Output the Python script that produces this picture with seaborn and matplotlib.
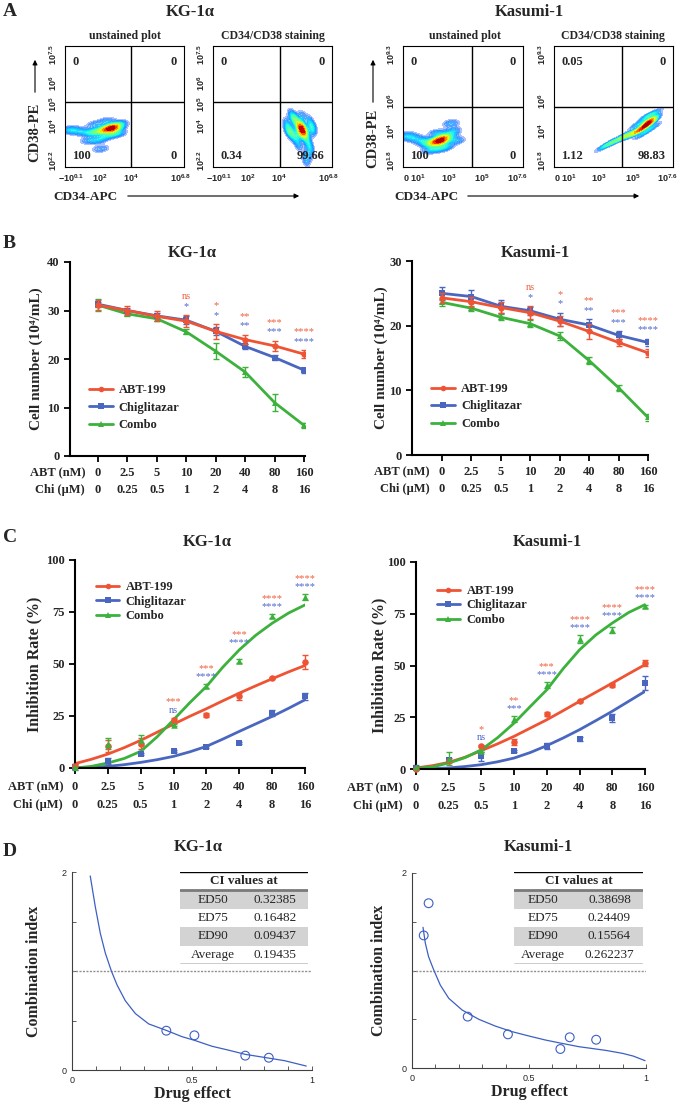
import numpy as np
import pandas as pd
import matplotlib
matplotlib.use("Agg")
import matplotlib.pyplot as plt
import seaborn as sns
from matplotlib.lines import Line2D
from matplotlib.patches import Rectangle, FancyArrowPatch
from matplotlib.colors import ListedColormap

sns.set_style("white")
plt.rcParams["font.family"] = ["Liberation Serif", "DejaVu Serif"]
plt.rcParams["font.weight"] = "bold"
plt.rcParams["mathtext.fontset"] = "custom"
plt.rcParams["mathtext.rm"] = "Liberation Sans"
plt.rcParams["mathtext.it"] = "Liberation Sans:italic"
plt.rcParams["mathtext.bf"] = "Liberation Sans:bold"

# ---------------- data ----------------
drugs = ["ABT-199", "Chiglitazar", "Combo"]
abt_doses = ["0", "2.5", "5", "10", "20", "40", "80", "160"]
chi_doses = ["0", "0.25", "0.5", "1", "2", "4", "8", "16"]

# A: flow cytometry clouds (axis fraction units)
kg_un_x = [0.38, 0.40, 0.36, 0.42, 0.34, 0.44, 0.30, 0.26, 0.22, 0.15, 0.08, 0.03, 0.46, 0.33, 0.28, 0.20, 0.35, 0.25, 0.40, 0.30, 0.45, 0.38, 0.39]
kg_un_y = [0.32, 0.33, 0.31, 0.32, 0.30, 0.34, 0.30, 0.29, 0.28, 0.29, 0.30, 0.31, 0.36, 0.25, 0.22, 0.22, 0.38, 0.35, 0.27, 0.15, 0.28, 0.33, 0.31]
kg_st_x = [0.75, 0.74, 0.76, 0.72, 0.70, 0.68, 0.78, 0.80, 0.82, 0.80, 0.78, 0.65, 0.62, 0.70, 0.66, 0.75, 0.83, 0.72, 0.75, 0.74, 0.63, 0.84, 0.67, 0.81, 0.77, 0.73]
kg_st_y = [0.31, 0.33, 0.29, 0.35, 0.38, 0.40, 0.25, 0.20, 0.15, 0.10, 0.05, 0.30, 0.36, 0.25, 0.43, 0.42, 0.30, 0.18, 0.32, 0.30, 0.30, 0.33, 0.26, 0.38, 0.30, 0.28]
kas_un_x = [0.31, 0.29, 0.33, 0.27, 0.35, 0.38, 0.24, 0.20, 0.15, 0.08, 0.03, 0.42, 0.30, 0.22, 0.36, 0.40, 0.28, 0.45, 0.31, 0.32]
kas_un_y = [0.22, 0.21, 0.23, 0.20, 0.25, 0.26, 0.19, 0.20, 0.22, 0.24, 0.26, 0.30, 0.15, 0.14, 0.17, 0.36, 0.28, 0.22, 0.21, 0.23]
kas_st_x = [0.79, 0.80, 0.77, 0.82, 0.75, 0.84, 0.72, 0.68, 0.64, 0.60, 0.55, 0.48, 0.42, 0.78, 0.74, 0.83, 0.70, 0.79, 0.80]
kas_st_y = [0.36, 0.38, 0.34, 0.40, 0.32, 0.44, 0.30, 0.28, 0.27, 0.26, 0.23, 0.20, 0.17, 0.42, 0.27, 0.33, 0.35, 0.37, 0.36]
kg_un_quad = ["0", "0", "100", "0"]
kg_st_quad = ["0", "0", "0.34", "99.66"]
kas_un_quad = ["0", "0", "100", "0"]
kas_st_quad = ["0.05", "0", "1.12", "98.83"]
kg_flow_xlabels = [r"$-10^{0.1}$", r"$10^{2}$", r"$10^{4}$", r"$10^{6.8}$"]
kg_flow_ylabels = [r"$10^{2.2}$", r"$10^{4}$", r"$10^{5}$", r"$10^{6}$", r"$10^{7.5}$"]
kas_flow_xlabels = [r"$0$", r"$10^{1}$", r"$10^{3}$", r"$10^{5}$", r"$10^{7.6}$"]
kas_flow_ylabels = [r"$10^{1.8}$", r"$10^{4}$", r"$10^{6}$", r"$10^{9.3}$"]

# B: cell number (10^4/mL)
kg_cell = {
    "ABT-199": [31.1, 30.0, 28.8, 27.8, 25.7, 24.0, 22.7, 21.0],
    "Chiglitazar": [31.3, 30.0, 28.9, 28.0, 25.7, 22.6, 20.3, 17.7],
    "Combo": [31.1, 29.3, 28.3, 25.6, 21.6, 17.3, 11.0, 6.3],
}
kg_cell_err = {
    "ABT-199": [1.0, 1.0, 1.0, 1.3, 1.5, 1.0, 1.1, 0.8],
    "Chiglitazar": [0.5, 0.5, 0.5, 0.8, 0.8, 0.5, 0.5, 0.5],
    "Combo": [1.3, 0.5, 0.5, 0.5, 1.6, 1.1, 1.8, 0.5],
}
kas_cell = {
    "ABT-199": [24.3, 23.7, 22.8, 22.0, 20.7, 19.1, 17.4, 15.8],
    "Chiglitazar": [25.0, 24.5, 23.0, 22.3, 21.0, 20.1, 18.5, 17.4],
    "Combo": [23.6, 22.7, 21.3, 20.3, 18.4, 14.6, 10.4, 5.8],
}
kas_cell_err = {
    "ABT-199": [0.8, 0.8, 0.8, 1.0, 0.8, 1.2, 0.6, 0.6],
    "Chiglitazar": [1.0, 1.0, 1.0, 0.6, 1.0, 0.9, 0.6, 0.6],
    "Combo": [0.5, 0.4, 0.5, 0.5, 0.6, 0.5, 0.5, 0.6],
}
kg_b_sig_abt = ["", "", "", "ns", "*", "**", "***", "****"]
kg_b_sig_chi = ["", "", "", "*", "*", "**", "***", "****"]
kas_b_sig_abt = ["", "", "", "ns", "*", "**", "***", "****"]
kas_b_sig_chi = ["", "", "", "*", "*", "**", "***", "****"]

# C: inhibition rate (%)
kg_inh = {
    "ABT-199": [0.8, 10.7, 11.7, 23.2, 25.3, 34.4, 43.2, 50.9],
    "Chiglitazar": [0.3, 3.2, 6.9, 8.0, 10.1, 12.0, 26.4, 34.4],
    "Combo": [0.5, 11.7, 13.6, 20.8, 39.5, 51.5, 73.1, 82.1],
}
kg_inh_err = {
    "ABT-199": [1.0, 2.8, 2.5, 1.0, 1.0, 1.5, 0.5, 3.5],
    "Chiglitazar": [1.5, 1.5, 0.5, 0.5, 0.5, 0.5, 1.5, 1.5],
    "Combo": [0.5, 2.8, 2.5, 0.5, 1.0, 1.0, 1.0, 1.5],
}
kg_fit = {
    "ABT-199": [2.1, 4.2, 6.7, 9.8, 13.3, 17.2, 21.1, 24.9, 28.5, 32.3, 36.0, 39.5, 42.9, 46.2, 49.3],
    "Chiglitazar": [0.0, 0.3, 0.8, 1.6, 2.7, 4.0, 5.6, 7.8, 10.4, 13.9, 17.6, 21.2, 24.8, 28.7, 32.8],
    "Combo": [0.0, 0.8, 2.4, 4.6, 8.0, 15.0, 23.2, 31.5, 39.2, 48.5, 56.8, 63.8, 69.6, 74.5, 78.4],
}
kas_inh = {
    "ABT-199": [0.2, 3.7, 11.0, 12.9, 26.7, 33.0, 40.7, 51.2],
    "Chiglitazar": [0.5, 4.2, 6.1, 8.5, 11.3, 14.5, 24.6, 41.5],
    "Combo": [1.0, 5.0, 8.9, 24.2, 40.7, 62.8, 67.3, 78.6],
}
kas_inh_err = {
    "ABT-199": [0.5, 0.5, 0.5, 1.5, 1.0, 0.5, 1.0, 1.5],
    "Chiglitazar": [0.5, 1.0, 2.0, 0.5, 1.5, 1.2, 2.0, 3.5],
    "Combo": [1.0, 3.2, 0.5, 1.5, 1.5, 2.0, 1.5, 0.7],
}
kas_fit = {
    "ABT-199": [0.5, 1.6, 3.2, 5.7, 8.9, 12.2, 15.8, 19.8, 23.8, 28.2, 32.7, 37.1, 41.5, 46.0, 50.4],
    "Chiglitazar": [0.0, 0.2, 0.5, 1.2, 2.1, 3.5, 5.3, 8.0, 11.3, 15.0, 19.0, 23.4, 27.9, 32.7, 37.5],
    "Combo": [0.3, 1.0, 2.9, 5.5, 9.3, 15.2, 22.2, 30.3, 38.3, 48.5, 57.6, 64.8, 70.5, 75.6, 79.4],
}
kg_c_sig_abt = ["", "", "", "***", "***", "***", "****", "****"]
kg_c_sig_chi = ["", "", "", "ns", "****", "****", "****", "****"]
kas_c_sig_abt = ["", "", "*", "**", "***", "****", "****", "****"]
kas_c_sig_chi = ["", "", "ns", "***", "****", "****", "****", "****"]

# D: combination index
kg_ci_curve_x = [0.076, 0.097, 0.118, 0.139, 0.164, 0.1875, 0.222, 0.264, 0.32, 0.393, 0.458, 0.51, 0.583, 0.653, 0.722, 0.82, 0.886, 0.976]
kg_ci_curve_y = [1.96, 1.65, 1.38, 1.18, 1.0, 0.86, 0.70, 0.57, 0.465, 0.40, 0.337, 0.30, 0.24, 0.20, 0.158, 0.12, 0.094, 0.04]
kg_ci_pts_x = [0.393, 0.51, 0.722, 0.82]
kg_ci_pts_y = [0.397, 0.35, 0.145, 0.124]
kas_ci_curve_x = [0.047, 0.057, 0.071, 0.093, 0.121, 0.157, 0.214, 0.285, 0.356, 0.427, 0.50, 0.57, 0.64, 0.712, 0.77, 0.83, 0.90, 0.946, 0.996]
kas_ci_curve_y = [1.443, 1.28, 1.14, 1.005, 0.85, 0.715, 0.595, 0.50, 0.43, 0.373, 0.328, 0.287, 0.253, 0.219, 0.200, 0.180, 0.150, 0.122, 0.075]
kas_ci_pts_x = [0.05, 0.071, 0.238, 0.41, 0.634, 0.674, 0.787]
kas_ci_pts_y = [1.36, 1.69, 0.527, 0.345, 0.195, 0.315, 0.29]
ci_rows = ["ED50", "ED75", "ED90", "Average"]
kg_ci_vals = ["0.32385", "0.16482", "0.09437", "0.19435"]
kas_ci_vals = ["0.38698", "0.24409", "0.15564", "0.262237"]

# ---------------- styles ----------------
colors = {"ABT-199": "#ee5434", "Chiglitazar": "#4a67c0", "Combo": "#3cb13c"}
markers = {"ABT-199": "o", "Chiglitazar": "s", "Combo": "^"}
SIG_RED, SIG_BLUE = "#f0603f", "#4f68cc"

W, H = 685, 1105
fig = plt.figure(figsize=(W / 100, H / 100), dpi=100)


def px_axes(x0, y0, x1, y1):
    return fig.add_axes([x0 / W, 1 - y1 / H, (x1 - x0) / W, (y1 - y0) / H])


def ftext(x, y, s, **kw):
    fig.text(x / W, 1 - y / H, s, **kw)


def farrow(x0, y0, x1, y1):
    fig.add_artist(FancyArrowPatch((x0 / W, 1 - y0 / H), (x1 / W, 1 - y1 / H),
                                   transform=fig.transFigure, arrowstyle="-|>",
                                   mutation_scale=7, lw=0.8, color="black"))


# ---------------- A: flow plots ----------------
_jet = plt.cm.jet(np.linspace(0.18, 1.0, 256))
_jet[:, 3] = np.clip(np.linspace(0.3, 2.2, 256), 0, 1)
flow_cmap = ListedColormap(_jet)


def flow(box, cx, cy, xt, xl, yt, yl, gx, gy, quad, sub, subx):
    ax = px_axes(*box)
    sns.kdeplot(x=cx, y=cy, ax=ax, fill=True, cmap=flow_cmap, levels=18,
                thresh=0.06, bw_adjust=0.7)
    ax.axvline(gx, color="black", lw=1)
    ax.axhline(gy, color="black", lw=1)
    ax.set_xlim(0, 1)
    ax.set_ylim(0, 1)
    ax.set_xticks(xt)
    ax.set_xticklabels(xl, fontsize=6.5)
    ax.set_yticks(yt)
    ax.set_yticklabels(yl, fontsize=6.5, rotation=90, va="center")
    ax.tick_params(direction="out", length=2.5, width=0.6, pad=1.5)
    for s in ax.spines.values():
        s.set_linewidth(0.8)
        s.set_color("black")
    ax.set_xlabel("")
    ax.set_ylabel("")
    kw = dict(fontsize=9, fontweight="bold", transform=ax.transAxes, va="center")
    ax.text(0.06, 0.87, quad[0], ha="left", **kw)
    ax.text(0.94, 0.87, quad[1], ha="right", **kw)
    ax.text(0.06, 0.09, quad[2], ha="left", **kw)
    ax.text(0.94, 0.09, quad[3], ha="right", **kw)
    ftext(subx, 36, sub, ha="center", va="center", fontsize=8.5, fontweight="bold")


kg_xt = [0.05, 0.29, 0.55, 0.97]
kg_yt = [0.05, 0.34, 0.52, 0.69, 0.93]
kas_xt = [0.03, 0.12, 0.38, 0.66, 0.95]
kas_yt = [0.05, 0.30, 0.54, 0.93]
flow((65, 46, 184, 167), kg_un_x, kg_un_y, kg_xt, kg_flow_xlabels, kg_yt, kg_flow_ylabels,
     0.555, 0.54, kg_un_quad, "unstained plot", 125)
flow((213, 46, 332, 167), kg_st_x, kg_st_y, kg_xt, kg_flow_xlabels, kg_yt, kg_flow_ylabels,
     0.56, 0.54, kg_st_quad, "CD34/CD38 staining", 273)
flow((403, 46, 523, 167), kas_un_x, kas_un_y, kas_xt, kas_flow_xlabels, kas_yt, kas_flow_ylabels,
     0.575, 0.50, kas_un_quad, "unstained plot", 465)
flow((554, 46, 673, 167), kas_st_x, kas_st_y, kas_xt, kas_flow_xlabels, kas_yt, kas_flow_ylabels,
     0.57, 0.50, kas_st_quad, "CD34/CD38 staining", 613)

for x, ty, ay in [(35, 132, 95), (373, 138, 105)]:
    ftext(x, ty, "CD38-PE", rotation=90, ha="center", va="center", fontsize=10.5, fontweight="bold")
    farrow(x, ay, x, 57)
for tx, a0, a1 in [(85, 125, 302), (426, 465, 642)]:
    ftext(tx, 197, "CD34-APC", ha="center", va="center", fontsize=9.5, fontweight="bold")
    farrow(a0, 196, a1, 196)


# ---------------- helpers for B / C ----------------
def style_axes(ax):
    sns.despine(ax=ax)
    for s in ["left", "bottom"]:
        ax.spines[s].set_linewidth(1.5)
        ax.spines[s].set_color("black")
    ax.tick_params(axis="both", direction="out", length=4, width=1.3, color="black",
                   left=True, bottom=True, labelsize=9)
    for lab in ax.get_yticklabels():
        lab.set_fontweight("bold")


def dose_rows(ax, label_x, off1, off2):
    ax.set_xticks(range(len(abt_doses)))
    ax.set_xticklabels([])
    kw = dict(xycoords=("data", "axes fraction"), textcoords="offset points",
              ha="center", va="center", fontsize=9, fontweight="bold", annotation_clip=False)
    for i, (a, c) in enumerate(zip(abt_doses, chi_doses)):
        ax.annotate(a, xy=(i, 0), xytext=(0, -off1), **kw)
        ax.annotate(c, xy=(i, 0), xytext=(0, -off2), **kw)
    kw["xycoords"] = "axes fraction"
    kw["ha"] = "right"
    ax.annotate("ABT (nM)", xy=(label_x, 0), xytext=(0, -off1), **kw)
    ax.annotate("Chi (\u03bcM)", xy=(label_x, 0), xytext=(0, -off2), **kw)


def sig_marks(ax, tops, sig_abt, sig_chi, off1, off2):
    for i, top in enumerate(tops):
        if sig_chi[i]:
            ax.text(i, top + off1, sig_chi[i], color=SIG_BLUE, ha="center", va="center",
                    fontsize=7.5, fontweight="normal")
        if sig_abt[i]:
            ax.text(i, top + off1 + off2, sig_abt[i], color=SIG_RED, ha="center", va="center",
                    fontsize=7.5, fontweight="normal")


def legend_handles(lw=2):
    return [Line2D([0], [0], color=colors[d], marker=markers[d], lw=lw, markersize=4,
                   markeredgewidth=0) for d in drugs]


def cell_panel(box, vals, errs, ymax, yticks, xlim, label_x, ylab_x, sig_abt, sig_chi):
    ax = px_axes(*box)
    rows = []
    for d in drugs:
        for i, v in enumerate(vals[d]):
            rows.append({"pos": i, "value": v, "drug": d})
    df = pd.DataFrame(rows)
    for d in ["Combo", "Chiglitazar", "ABT-199"]:
        sub = df[df.drug == d]
        sns.lineplot(data=sub, x="pos", y="value", ax=ax, color=colors[d], marker=markers[d],
                     markersize=4.5, markeredgewidth=0, lw=2, legend=False)
        ax.errorbar(sub.pos, sub.value, yerr=errs[d], fmt="none", ecolor=colors[d],
                    elinewidth=1, capsize=2.5, capthick=1)
    ax.set_xlim(*xlim)
    ax.set_ylim(0, ymax)
    ax.set_yticks(yticks)
    ax.set_xlabel("")
    ax.set_ylabel("Cell number (10\u2074/mL)", fontsize=11, fontweight="bold")
    ax.yaxis.set_label_coords(ylab_x, 0.5)
    style_axes(ax)
    dose_rows(ax, label_x, 12.2, 24.5)
    tops = [max(vals[d][i] + errs[d][i] for d in drugs) for i in range(len(abt_doses))]
    sig_marks(ax, tops, sig_abt, sig_chi, 0.045 * ymax, 0.05 * ymax)
    ax.legend(legend_handles(), drugs, loc="center left", bbox_to_anchor=(0.08, 0.25),
              frameon=False, prop={"size": 9, "weight": "bold"}, handlelength=1.9,
              handletextpad=0.5, labelspacing=0.45, borderpad=0, borderaxespad=0)
    return ax


cell_panel((70, 262, 305, 456), kg_cell, kg_cell_err, 40, [0, 10, 20, 30, 40], (-0.95, 7.03),
           0.064, -0.115, kg_b_sig_abt, kg_b_sig_chi)
cell_panel((412, 261, 648, 455), kas_cell, kas_cell_err, 30, [0, 10, 20, 30], (-1.02, 7.0),
           0.076, -0.10, kas_b_sig_abt, kas_b_sig_chi)


def inhib_panel(box, vals, errs, fits, label_x, ylab_x, sig_abt, sig_chi, leg_y):
    ax = px_axes(*box)
    fit_pos = np.arange(len(kg_fit["ABT-199"])) * 0.5
    for d in ["Chiglitazar", "ABT-199", "Combo"]:
        sns.lineplot(x=fit_pos, y=fits[d], ax=ax, color=colors[d], lw=2, legend=False)
        sns.scatterplot(x=np.arange(len(vals[d])), y=vals[d], ax=ax, color=colors[d],
                        marker=markers[d], s=22, linewidth=0, legend=False, clip_on=False, zorder=4)
        ax.errorbar(np.arange(len(vals[d])), vals[d], yerr=errs[d], fmt="none",
                    ecolor=colors[d], elinewidth=1, capsize=2.5, capthick=1, clip_on=False)
    ax.set_xlim(0, 7)
    ax.set_ylim(0, 100)
    ax.set_yticks([0, 25, 50, 75, 100])
    ax.set_xlabel("")
    ax.set_ylabel("Inhibition Rate (%)", fontsize=11.5, fontweight="bold")
    ax.yaxis.set_label_coords(ylab_x, 0.5)
    style_axes(ax)
    dose_rows(ax, label_x, 13.7, 26.6)
    tops = []
    for i in range(len(abt_doses)):
        t = max(vals[d][i] + errs[d][i] for d in drugs)
        t = max([t] + [fits[d][2 * i] for d in drugs])
        tops.append(t)
    sig_marks(ax, tops, sig_abt, sig_chi, 3.5, 4.0)
    ax.legend(legend_handles(), drugs, loc="center left", bbox_to_anchor=(0.09, leg_y),
              frameon=False, prop={"size": 9, "weight": "bold"}, handlelength=1.9,
              handletextpad=0.5, labelspacing=0.2, borderpad=0, borderaxespad=0)
    return ax


inhib_panel((75, 560, 305, 768), kg_inh, kg_inh_err, kg_fit, -0.052, -0.143,
            kg_c_sig_abt, kg_c_sig_chi, 0.80)
inhib_panel((416, 562, 645, 769), kas_inh, kas_inh_err, kas_fit, -0.057, -0.127,
            kas_c_sig_abt, kas_c_sig_chi, 0.79)


# ---------------- D: combination index ----------------
def ci_panel(box, cx, cy, px, py, ylab_x, table_box, vals, col_x):
    ax = px_axes(*box)
    ax.axhline(1.0, color="#909090", lw=1, ls=(0, (1.5, 1)))
    sns.lineplot(x=cx, y=cy, ax=ax, color="#3d5fc4", lw=0.9, sort=False, legend=False)
    sns.scatterplot(x=px, y=py, ax=ax, marker="o", s=40, facecolor="none",
                    edgecolor="#3d5fc4", linewidth=0.8, legend=False, zorder=4)
    ax.set_xlim(0, 1.0)
    ax.set_ylim(0, 2)
    sns.despine(ax=ax)
    for s in ["left", "bottom"]:
        ax.spines[s].set_linewidth(0.8)
        ax.spines[s].set_color("#404040")
    ax.set_yticks([0, 0.5, 1, 1.5, 2])
    ax.set_yticklabels(["0", "", "", "", "2"])
    ax.set_xticks([0, 0.5, 1])
    ax.set_xticklabels(["0", "0.5", "1"])
    ax.set_xticks(np.arange(0.1, 1.0, 0.1), minor=True)
    ax.tick_params(which="both", direction="in", length=3, width=0.6, color="#404040",
                   labelsize=6.5, left=True, bottom=True, pad=4)
    for lab in ax.get_xticklabels() + ax.get_yticklabels():
        lab.set_fontfamily("Liberation Sans")
        lab.set_fontweight("normal")
    ax.set_xlabel("Drug effect", fontsize=11.5, fontweight="bold")
    ax.xaxis.set_label_coords(0.5, -0.08)
    ax.set_ylabel("Combination index", fontsize=11.5, fontweight="bold")
    ax.yaxis.set_label_coords(ylab_x, 0.5)

    tb = px_axes(*table_box)
    tb.set_xlim(0, 1)
    tb.set_ylim(len(ci_rows) + 1, 0)
    tb.axis("off")
    for r in [1, 3]:
        tb.add_patch(Rectangle((0, r), 1, 1, facecolor="#d3d3d3", edgecolor="none"))
    tb.axhline(0, color="black", lw=1)
    tb.axhline(1, color="#7a7a7a", lw=2)
    tb.axhline(len(ci_rows) + 1, color="black", lw=1)
    tb.text(0.5, 0.5, "CI values at", ha="center", va="center", fontsize=9.5, fontweight="bold")
    for r, (lab, v) in enumerate(zip(ci_rows, vals)):
        tb.text(col_x[0], r + 1.5, lab, ha="center", va="center", fontsize=9.5, fontweight="normal")
        tb.text(col_x[1], r + 1.5, v, ha="center", va="center", fontsize=9.5, fontweight="normal")


ci_panel((72, 872, 312, 1070), kg_ci_curve_x, kg_ci_curve_y, kg_ci_pts_x, kg_ci_pts_y, -0.125,
         (180, 872, 308, 964), kg_ci_vals, (0.26, 0.74))
ci_panel((412, 873, 646, 1068), kas_ci_curve_x, kas_ci_curve_y, kas_ci_pts_x, kas_ci_pts_y, -0.107,
         (514, 872, 643, 964), kas_ci_vals, (0.225, 0.74))

# ---------------- titles and panel letters ----------------
for x, y, s in [(190, 12, "KG-1\u03b1"), (529, 12, "Kasumi-1"),
                (192, 253, "KG-1\u03b1"), (535, 253, "Kasumi-1"),
                (207, 542, "KG-1\u03b1"), (547, 542, "Kasumi-1"),
                (198, 847, "KG-1\u03b1"), (538, 847, "Kasumi-1")]:
    ftext(x, y, s, ha="center", va="center", fontsize=12, fontweight="bold")
for y, s in [(12, "A"), (243, "B"), (537, "C"), (852, "D")]:
    ftext(3, y, s, ha="left", va="center", fontsize=14, fontweight="bold")

fig.savefig("out.png", dpi=100)
